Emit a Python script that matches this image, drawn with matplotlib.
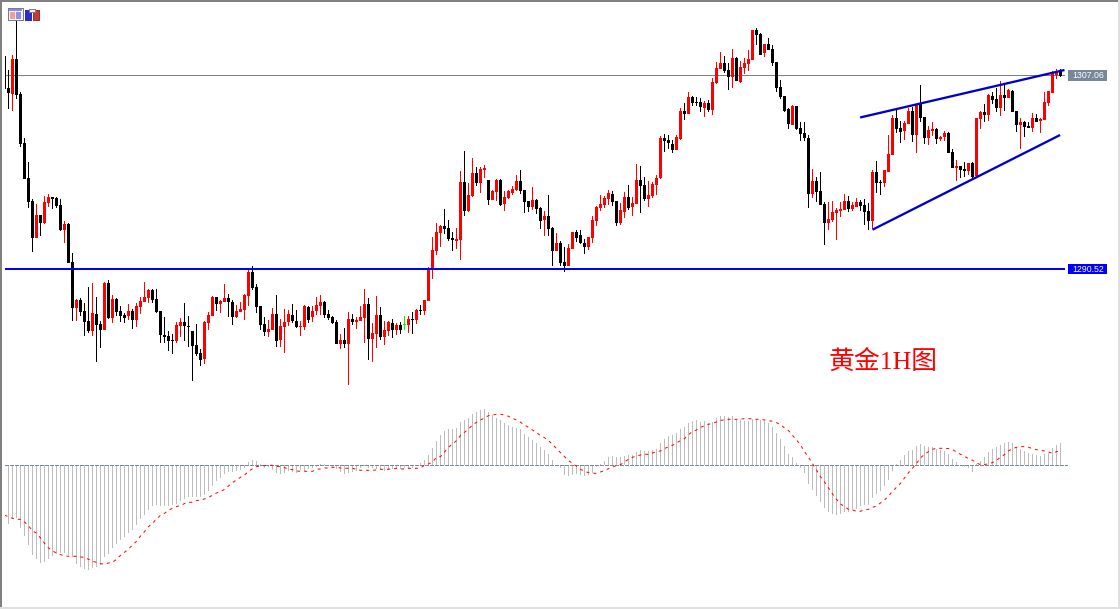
import matplotlib
matplotlib.use("Agg")
import matplotlib.pyplot as plt
from matplotlib.patches import Rectangle

W, H = 1120, 609

# Gold H1 quotes, in ticks above a 1270.77 reference level
open_ticks = [
    444,412,406,441,406,357,322,299,262,285,277,297,303,302,295,270,276,238,192,200,
    189,179,169,186,176,170,217,182,201,189,185,184,189,180,193,198,202,210,201,189,
    165,164,160,159,174,178,174,169,155,147,141,177,184,203,196,198,202,198,183,188,
    190,204,228,213,194,176,168,170,186,160,173,178,185,179,173,173,193,183,189,194,
    198,186,183,178,156,160,156,181,178,179,182,196,161,166,185,163,169,177,170,175,
    175,175,181,180,190,189,199,230,249,267,274,272,262,259,260,318,289,304,327,317,
    330,320,300,308,320,296,302,307,310,319,310,299,293,300,292,280,284,272,249,257,
    238,234,251,268,265,257,253,262,279,292,295,301,306,299,277,288,303,293,296,320,
    315,301,304,315,322,362,360,356,350,361,389,386,403,398,398,392,397,390,417,431,
    437,430,423,442,418,432,436,440,470,466,447,456,451,438,413,404,391,375,394,372,
    367,362,306,319,309,296,277,280,287,289,290,299,291,293,298,295,289,279,328,318,
    317,328,345,382,372,369,376,389,365,396,383,362,369,371,361,363,367,348,332,334,
    331,329,337,324,381,388,385,404,401,392,405,402,409,389,375,378,374,372,382,379,
    380,397,407,425,429,
]
close_ticks = [
    411,407,441,405,356,321,298,262,285,277,298,303,301,294,270,276,237,192,200,188,
    178,169,187,175,170,217,182,201,188,184,182,189,180,194,199,203,210,200,188,165,
    163,159,159,175,178,174,173,154,146,140,178,185,203,196,199,202,198,183,189,191,
    205,228,212,193,175,168,171,186,159,174,178,186,179,173,174,194,180,189,195,198,
    185,182,177,156,160,156,181,178,180,183,196,161,167,185,163,170,178,170,175,170,
    175,181,180,190,189,200,231,250,268,274,271,261,260,261,318,289,305,327,317,331,
    332,300,309,320,295,303,309,311,319,309,298,293,300,291,279,284,271,249,257,237,
    234,252,268,262,257,253,263,280,293,296,302,307,298,277,290,303,292,297,320,314,
    301,305,316,322,362,359,357,350,363,389,386,403,397,397,393,397,390,418,432,437,
    429,423,442,419,433,437,441,470,465,445,456,450,437,412,403,389,376,394,371,366,
    362,306,319,308,295,277,281,288,290,291,299,291,295,298,294,288,279,328,317,317,
    330,346,382,371,368,377,389,365,396,382,362,370,371,361,363,367,347,332,334,330,
    329,337,323,382,388,385,405,400,392,405,402,410,388,375,378,373,372,382,378,381,
    398,409,427,428,424,
]
high_ticks = [
    444,430,445,480,408,362,338,301,296,285,304,306,303,303,301,279,277,247,201,202,
    197,213,217,203,179,218,220,205,202,194,187,196,191,197,203,218,211,211,211,189,
    183,169,166,178,182,197,184,169,176,151,179,188,204,203,200,216,206,200,195,198,
    206,230,234,216,194,183,180,192,205,181,191,190,196,190,179,195,194,194,203,205,
    199,190,184,180,166,172,188,186,183,194,211,202,177,204,193,179,179,181,177,178,
    184,184,188,191,195,200,233,263,277,275,291,280,268,272,329,349,317,342,333,333,
    335,320,310,321,321,309,310,314,325,330,310,299,313,301,293,289,305,273,267,259,
    253,256,268,270,270,261,263,284,294,305,304,310,309,299,297,308,315,303,336,334,
    323,319,318,325,364,366,365,360,365,392,397,408,404,403,402,399,400,422,438,448,
    444,437,451,443,439,442,450,470,472,467,456,462,455,438,420,404,392,395,394,378,
    378,365,331,323,328,298,298,299,292,298,306,304,298,302,300,301,297,330,339,320,
    330,365,385,391,379,379,392,393,396,415,383,374,378,372,364,369,368,351,340,334,
    338,337,338,382,389,396,406,408,412,419,416,411,410,389,382,379,378,387,386,382,
    408,409,429,431,431,
]
low_ticks = [
    411,391,389,401,353,321,292,248,262,264,276,293,291,292,269,257,237,179,179,184,
    164,167,164,138,152,170,181,177,184,178,177,180,171,173,186,198,197,197,187,157,
    157,149,146,157,163,159,153,119,144,134,136,170,184,189,187,198,183,175,182,188,
    180,194,210,187,170,164,163,170,153,153,147,174,177,172,164,170,177,178,185,185,
    182,180,176,156,151,152,115,175,171,179,157,140,138,152,160,155,164,162,165,166,
    170,167,166,176,185,185,199,221,245,253,266,259,249,251,240,284,288,303,314,307,
    322,295,300,299,294,289,301,305,309,306,287,288,290,286,271,264,264,234,249,234,
    228,234,251,258,256,246,250,257,274,289,292,295,294,274,275,282,290,284,296,287,
    299,293,302,305,321,348,351,347,350,360,380,386,394,394,388,383,388,385,416,431,
    427,410,412,419,417,426,429,440,455,445,443,450,434,408,401,388,371,375,370,359,
    359,292,302,298,295,255,270,278,260,283,290,288,289,293,289,275,270,271,307,305,
    313,328,345,367,357,360,376,358,347,378,356,355,364,356,359,359,347,332,319,322,
    323,325,322,324,371,378,379,396,388,384,389,402,388,368,351,363,372,368,378,367,
    380,394,407,421,423,
]

# MACD histogram and signal line, in hundredths
macd_hist = [
    -170,-176,-162,-159,-188,-212,-239,-269,-281,-293,-291,-281,-272,-266,-262,-264,-269,-274,-296,-304,
    -311,-314,-309,-304,-299,-274,-266,-249,-236,-224,-214,-204,-194,-179,-162,-149,-134,-122,-120,-122,
    -122,-122,-119,-116,-107,-102,-96,-96,-96,-94,-89,-76,-62,-47,-39,-26,-20,-19,-17,-14,
    -7,10,16,13,3,-8,-4,-13,-22,-25,-22,-16,-19,-22,
    -14,-16,-12,-9,-4,4,3,-2,-4,-12,-19,-25,-22,-20,-16,-9,-2,-7,-9,-12,
    -14,-17,-14,-11,-7,-12,-7,-7,-9,2,7,16,31,52,74,91,103,109,109,112,
    130,136,142,154,160,166,169,160,151,142,136,127,121,115,112,109,94,85,76,67,
    55,46,34,16,1,-9,-29,-32,-29,-26,-29,-32,-28,-22,-6,
    4,13,25,28,25,25,28,31,31,40,46,43,43,46,49,67,79,88,91,97,
    109,115,127,133,136,130,133,127,130,142,148,148,145,148,136,136,133,133,139,136,
    136,133,127,115,97,79,58,34,25,7,-9,-23,-56,-74,-92,-110,-128,-140,-146,-149,
    -146,-140,-140,-134,-131,-122,-119,-119,-98,-86,-77,-62,-44,-17,4,
    16,31,43,46,58,64,58,55,55,49,46,43,34,19,10,0,-5,-8,-20,4,
    13,25,40,49,55,61,67,70,67,55,49,43,37,34,31,28,34,37,52,61,67,
]
macd_signal = [
    -150,-154,-159,-162,-162,-170,-182,-196,-204,-218,-234,-248,-256,-264,-268,-272,-273,-273,-273,-275,
    -276,-282,-288,-291,-295,-297,-293,-291,-282,-270,-261,-251,-239,-228,-212,-199,-184,-174,-161,-150,
    -144,-135,-129,-124,-120,-115,-111,-111,-106,-104,-101,-96,-90,-83,-79,-72,-62,-52,-44,-36,
    -29,-19,-10,-4,-2,-1,0,0,-3,-4,-7,-12,-13,-17,
    -18,-18,-18,-18,-12,-11,-8,-8,-6,-6,-8,-9,-9,-9,-12,-15,-15,-15,-15,-14,
    -12,-12,-12,-10,-9,-11,-11,-9,-9,-9,-8,0,4,10,24,26,40,54,64,74,
    89,99,109,121,129,136,142,149,151,153,153,151,147,141,136,129,121,114,106,98,
    89,83,74,63,50,38,26,14,6,-3,-12,-18,-22,-24,-24,
    -20,-16,-10,-6,0,2,10,18,24,28,31,33,33,37,41,43,50,56,60,67,
    74,80,92,101,106,114,118,123,126,130,135,136,138,138,138,138,140,140,139,138,
    138,136,134,132,128,122,112,104,90,76,61,41,24,5,-14,-34,-50,-68,-86,-102,
    -116,-124,-132,-134,-138,-138,-133,-132,-126,-122,-113,-104,-92,-78,-66,
    -54,-38,-22,-9,6,22,33,41,48,51,51,51,50,47,40,33,27,20,15,7,
    2,2,5,8,15,24,32,43,50,54,56,56,54,50,47,45,43,40,36,41,42,
]

# Chart annotations
LAST_PRICE = 1307.06
SUPPORT_PRICE = 1290.52
upper_channel_bars = [213.9, 265.0]
upper_channel_ticks = [382.5, 430.0]
lower_channel_bars = [217.0, 263.9]
lower_channel_ticks = [270.3, 365.0]
CAPTION = "黄金1H图"

REF_LEVEL = 1270.77
TICK_SIZE = 0.08548
PX_PER_BAR = 4


def ticks_to_price(values):
    return [REF_LEVEL + v * TICK_SIZE for v in values]


def fx(px):
    return px / W


def fy(py):
    return 1 - py / H


def axes_at(left, right):
    ax = fig.add_axes([fx(left), 0, (right - left) / W, 1])
    ax.set_xlim((left - 4.5) / PX_PER_BAR, (right - 4.5) / PX_PER_BAR)
    ax.axis("off")
    ax.patch.set_alpha(0)
    return ax


fig = plt.figure(figsize=(W / 100, H / 100), dpi=100, facecolor="white")
ONE_PX = 0.72
WICK_WIDTH = 1 / PX_PER_BAR
BODY_WIDTH = 3 / PX_PER_BAR

# Price panel
ax = axes_at(5, 1065)
ax.set_ylim(REF_LEVEL + (500 - H) * TICK_SIZE, REF_LEVEL + 500 * TICK_SIZE)

opens = ticks_to_price(open_ticks)
closes = ticks_to_price(close_ticks)
highs = ticks_to_price(high_ticks)
lows = ticks_to_price(low_ticks)
bars = list(range(len(opens)))


def candle_colour(o, c):
    if c > o:
        return "#FF0000"
    if c < o:
        return "#000000"
    return "#00FF00"


colours = [candle_colour(o, c) for o, c in zip(opens, closes)]
ax.axhline(LAST_PRICE, color="#808080", lw=ONE_PX, antialiased=False, zorder=1)
ax.bar(bars, [h - l for h, l in zip(highs, lows)], bottom=lows, width=WICK_WIDTH, color=colours,
       linewidth=0, antialiased=False, zorder=2)
body_low = [min(o, c) for o, c in zip(opens, closes)]
body_height = [max(abs(o - c), TICK_SIZE) for o, c in zip(opens, closes)]
ax.bar(bars, body_height, bottom=body_low, width=BODY_WIDTH, color=colours, linewidth=0,
       antialiased=False, zorder=3)
ax.axhline(SUPPORT_PRICE, color="#0000FF", lw=2 * ONE_PX, antialiased=False, zorder=4)
for bx, by in ((upper_channel_bars, upper_channel_ticks), (lower_channel_bars, lower_channel_ticks)):
    ax.plot(bx, ticks_to_price(by), color="#0000CD", lw=2.3 * ONE_PX, zorder=5, solid_capstyle="butt")

ax.text(fx(829), fy(363), CAPTION, transform=fig.transFigure, color="#FF0000", fontsize=18.6,
        family=["Liberation Serif", "Noto Sans CJK SC"], va="center", ha="left", zorder=6, clip_on=False)

# MACD panel
macd_ax = axes_at(5, 1068)
macd_ax.set_ylim((465.3 - H) * 3, 465.3 * 3)
macd_bars = list(range(len(macd_hist)))
macd_ax.bar(macd_bars, macd_hist, width=WICK_WIDTH, color="#BDBDBD", linewidth=0, antialiased=False, zorder=1)
macd_ax.axhline(0, color="#778899", lw=ONE_PX, linestyle=(0, (3.5, 1.5)), antialiased=False, zorder=2)
macd_ax.plot(macd_bars, macd_signal, color="#FF0000", lw=ONE_PX, linestyle=(0, (3, 4)), zorder=3)

# Right-hand price tags
for top, bottom, price, face in ((70, 81, LAST_PRICE, "#778899"), (264, 274, SUPPORT_PRICE, "#0000FF")):
    fig.add_artist(Rectangle((fx(1068), fy(bottom)), 39 / W, (bottom - top) / H, transform=fig.transFigure,
                             facecolor=face, edgecolor="none", antialiased=False))
    fig.text(fx(1088), fy((top + bottom) / 2 + 0.2), f"{price:.2f}", color="white", fontsize=6.3,
             family="Liberation Sans", ha="center", va="center")

# Window frame
for x, y, w, h, c in ((0, 0, W, 2, "#808080"), (0, 0, 2, H, "#808080"), (0, H - 2, W, 2, "#E0E0E0"),
                      (W - 2, 0, 2, H, "#E0E0E0")):
    fig.add_artist(Rectangle((fx(x), fy(y + h)), w / W, h / H, transform=fig.transFigure,
                             facecolor=c, edgecolor="none", antialiased=False))


def box(x, y, w, h, face, edge="none"):
    fig.add_artist(Rectangle((fx(x), fy(y + h)), w / W, h / H, transform=fig.transFigure, facecolor=face,
                             edgecolor=edge, linewidth=ONE_PX, antialiased=False, zorder=10))


# Toolbar glyphs in the chart corner
box(8, 8, 15, 12, "#F4F4FA", "#7A7A90")
box(9, 9, 13, 2, "#8888EE")
box(10, 12, 5, 7, "#F2A090")
box(16, 12, 5, 7, "#9090E8")
box(25, 10, 6, 10, "#2A2ADD", "#3030A0")
box(33, 10, 6, 10, "#C83838", "#A03030")
box(29, 9, 6, 3, "#F0F0F0", "#808080")

fig.savefig("out.png", dpi=100)
